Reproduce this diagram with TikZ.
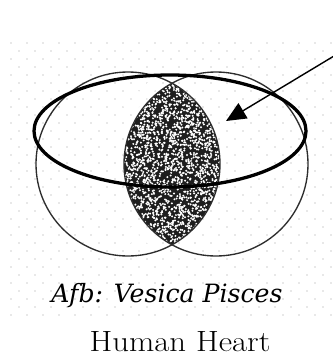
\documentclass[tikz,border=0pt]{standalone}
\usepackage{tikz}
\usepackage{fontspec}
\usetikzlibrary{arrows.meta,positioning}
\newfontfamily\afbfont{DejaVu Serif}
\definecolor{dotgray}{RGB}{208,208,208}
\definecolor{ringgray}{RGB}{45,45,45}
\definecolor{lensdark}{RGB}{30,30,30}
\tikzset{
  ring/.style={draw=ringgray,line width=1.15pt},
  oval/.style={draw=black,line width=2.8pt},
  pointer/.style={-{Triangle[length=17pt,width=15pt]},draw=black,line width=1.2pt},
  caption/.style={font=\fontsize{21.5}{26}\selectfont\afbfont\itshape,inner sep=0pt},
  heading/.style={font=\fontsize{25}{30}\selectfont,inner sep=0pt},
}

\begin{document}
\begin{tikzpicture}[x=0.03cm,y=-0.03cm]
  \useasboundingbox (0,0) rectangle (333,356);
  % dotted paper behind the drawing
  \begin{scope}
    \clip (0,0) rectangle (333,356);
    \foreach \r in {0,...,34} {
      \pgfmathsetmacro{\off}{mod(\r,2)*8}
      \foreach \c in {0,...,20}
        \fill[dotgray] (11+\off+16*\c,43+8*\r) circle (0.9);
    }
  \end{scope}
  \coordinate (lc) at (128,164);
  \coordinate (rc) at (216,164);
  % the vesica itself, stippled
  \begin{scope}
    \clip (lc) circle (92);
    \fill[lensdark] (rc) circle (92);
    \pgfmathsetseed{17}
    \foreach \i in {1,...,2300} {
      \pgfmathsetmacro{\nx}{124+96*rnd}
      \pgfmathsetmacro{\ny}{83+162*rnd}
      \fill[white] (\nx,\ny) circle (1.1);
    }
  \end{scope}
  \draw[ring] (lc) circle (92);
  \draw[ring] (rc) circle (92);
  \coordinate (eye) at (170,131);
  \draw[oval] (eye) ellipse (136 and 56);
  \coordinate (tail) at (334,56);
  \coordinate (tip) at (226,121);
  \draw[pointer] (tail) -- (tip);
  \node[caption] (afb) at (167,296) {Afb: Vesica Pisces};
  \node[heading] (heart) at (180,342) {\scalebox{1.12}[1]{Human Heart}};
\end{tikzpicture}
\end{document}
